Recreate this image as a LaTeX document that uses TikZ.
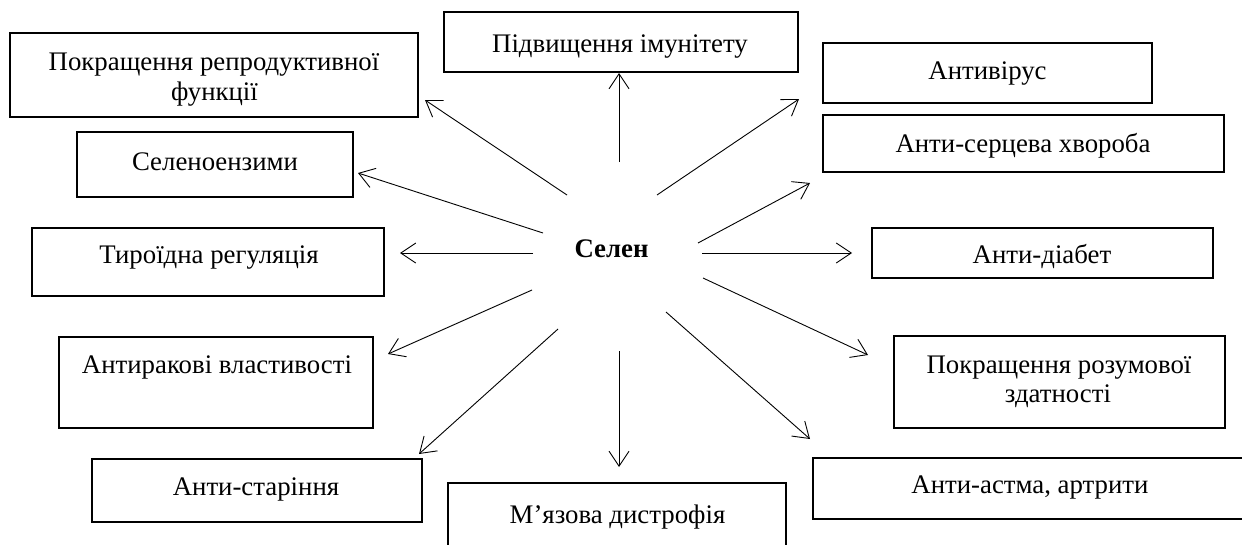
\documentclass[tikz,border=0pt]{standalone}
\usepackage{fontspec}
\setmainfont{Liberation Serif}
\usetikzlibrary{arrows.meta}
\begin{document}
\begin{tikzpicture}[x=1pt,y=-1pt,
  box/.style={draw, line width=1.3pt, inner sep=0pt},
  lbl/.style={font=\fontsize{26.8}{31}\selectfont, inner sep=0pt, anchor=base},
  conn/.style={line width=0.9pt, -{Straight Barb[length=15pt,width=20pt,line width=0.9pt]}}]
\useasboundingbox (0,0) rectangle (1242,544);
\clip (0,0) rectangle (1242,544);
\fill[white] (0,0) rectangle (1242,544);

% boxes
\node[box, minimum width=354pt, minimum height=60pt] (imm) at (621,42) {};
\node[box, minimum width=408pt, minimum height=84pt] (repro) at (214,75) {};
\node[box, minimum width=329pt, minimum height=60pt] (antivir) at (987.5,73) {};
\node[box, minimum width=401pt, minimum height=57pt] (heart) at (1023.5,143.5) {};
\node[box, minimum width=276pt, minimum height=65pt] (seleno) at (215,164.5) {};
\node[box, minimum width=352pt, minimum height=68pt] (thyroid) at (208,262) {};
\node[box, minimum width=341pt, minimum height=50pt] (diab) at (1042.5,253) {};
\node[box, minimum width=314pt, minimum height=91pt] (cancer) at (216,382.5) {};
\node[box, minimum width=331pt, minimum height=92pt] (mental) at (1059.5,382) {};
\node[box, minimum width=330pt, minimum height=63pt] (aging) at (257,490.5) {};
\node[box, minimum width=338pt, minimum height=117pt] (muscle) at (617,541.5) {};
\node[box, minimum width=487pt, minimum height=61pt] (asthma) at (1056.5,488.5) {};

% labels
\node[lbl] (timm) at (620,52) {Підвищення імунітету};
\node[lbl] (trepro1) at (214,70) {Покращення репродуктивної};
\node[lbl] (trepro2) at (214.5,100) {функції};
\node[lbl] (tantivir) at (987.5,79) {Антивірус};
\node[lbl] (theart) at (1023,152) {Анти-серцева хвороба};
\node[lbl] (tseleno) at (215,170) {Селеноензими};
\node[lbl] (tthyroid) at (209,263) {Тироїдна регуляція};
\node[lbl] (tdiab) at (1042,263) {Анти-діабет};
\node[lbl] (tcancer) at (217,373) {Антиракові властивості};
\node[lbl] (tmental1) at (1059,373) {Покращення розумової};
\node[lbl] (tmental2) at (1058,402) {здатності};
\node[lbl] (taging) at (256,495) {Анти-старіння};
\node[lbl] (tmuscle) at (617.5,523) {М’язова дистрофія};
\node[lbl] (tasthma) at (1030,493) {Анти-астма, артрити};
\node[lbl, font=\fontsize{26.8}{31}\selectfont\bfseries] (selen) at (611.5,257) {Селен};

% connector ends
\coordinate (s1) at (619,162);  \coordinate (e1) at (619,73);
\coordinate (s2) at (567,195);  \coordinate (e2) at (425,100);
\coordinate (s3) at (657,195);  \coordinate (e3) at (799,99);
\coordinate (s4) at (698,243);  \coordinate (e4) at (810,183);
\coordinate (s5) at (543,233);  \coordinate (e5) at (358,173);
\coordinate (s6) at (533,253);  \coordinate (e6) at (400,253);
\coordinate (s7) at (702,253);  \coordinate (e7) at (852,253);
\coordinate (s8) at (532,290);  \coordinate (e8) at (388,354);
\coordinate (s9) at (703,278);  \coordinate (e9) at (868,355);
\coordinate (s10) at (558,329); \coordinate (e10) at (419,454);
\coordinate (s11) at (619,351); \coordinate (e11) at (619,467);
\coordinate (s12) at (666,312); \coordinate (e12) at (810,439);

\foreach \i in {1,...,12} \draw[conn] (s\i) -- (e\i);
\end{tikzpicture}
\end{document}
